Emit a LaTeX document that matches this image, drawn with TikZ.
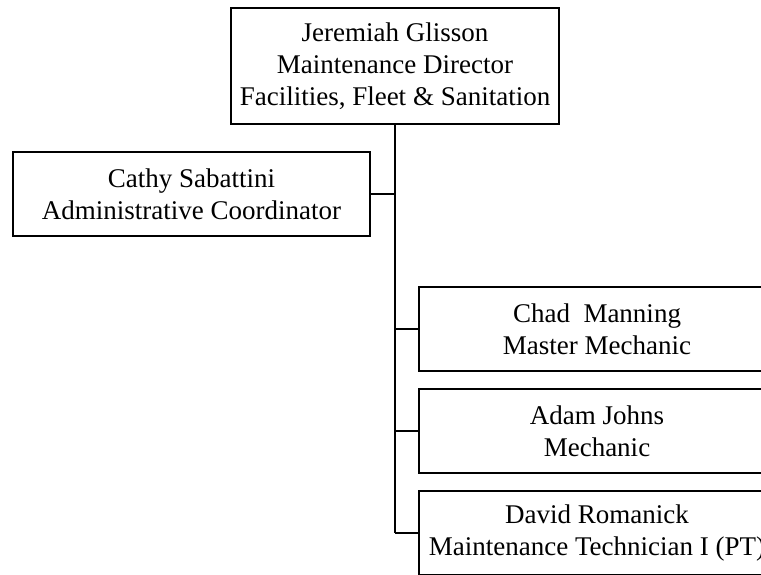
\documentclass[tikz,border=0pt]{standalone}
\usepackage{fontspec}
\setmainfont{Liberation Serif}
\begin{document}
\begin{tikzpicture}[x=1pt,y=-1pt,
  box/.style={draw=black,line width=2pt,fill=white,align=center,inner sep=0pt,
    font=\fontsize{27}{32}\selectfont},
  conn/.style={draw=black,line width=2pt}]
\useasboundingbox (0,0) rectangle (761,575);
\clip (0,0) rectangle (761,575);
\node[box,minimum width=328,minimum height=116] (dir) at (395,66.5)
  {Jeremiah Glisson\\Maintenance Director\\Facilities, Fleet \& Sanitation};
\node[box,minimum width=357,minimum height=84] (cathy) at (191.5,194)
  {Cathy Sabattini\\Administrative Coordinator};
\node[box,minimum width=356,minimum height=84] (chad) at (597,329)
  {Chad\ \ Manning\\Master Mechanic};
\node[box,minimum width=356,minimum height=84] (adam) at (597,431)
  {Adam Johns\\Mechanic};
\node[box,minimum width=356,minimum height=84] (david) at (597,533)
  {David Romanick\\Maintenance Technician I (PT)};
\coordinate (trunkend) at (dir.south |- david.west);
\draw[conn] (dir.south) -- (trunkend);
\draw[conn] (cathy.east) -- (cathy.east -| dir.south);
\draw[conn] (chad.west -| dir.south) -- (chad.west);
\draw[conn] (adam.west -| dir.south) -- (adam.west);
\draw[conn] (trunkend) -- (david.west);
\end{tikzpicture}
\end{document}
